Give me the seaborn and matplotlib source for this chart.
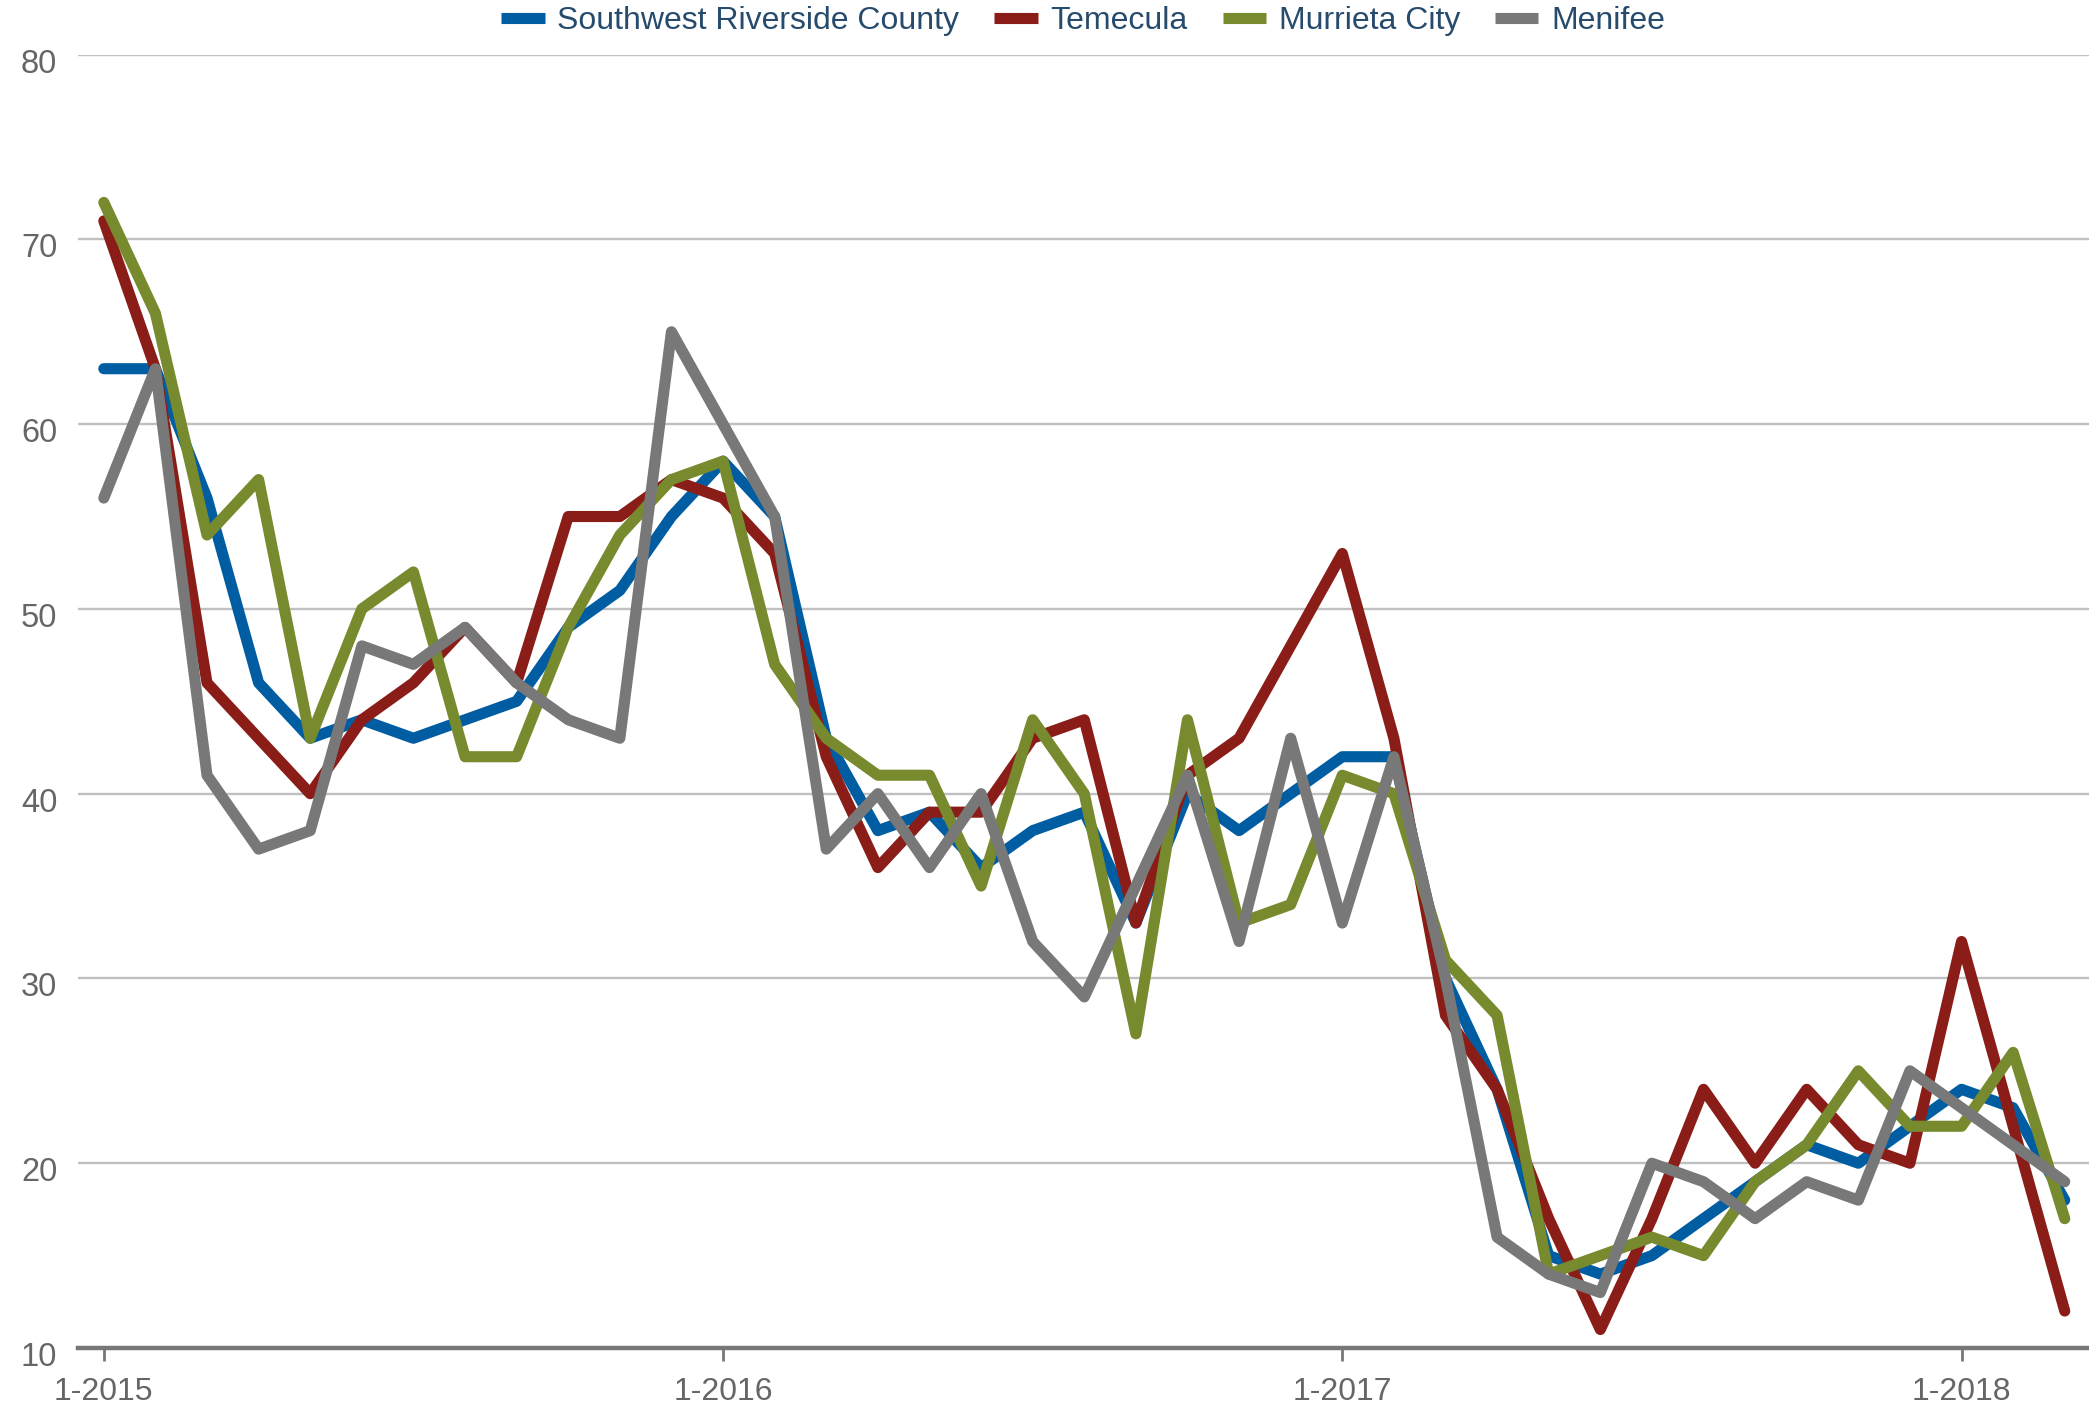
import numpy as np
import pandas as pd
import matplotlib
matplotlib.use("Agg")
import matplotlib.pyplot as plt
import matplotlib.transforms as mtransforms
import seaborn as sns
from matplotlib.lines import Line2D

# ---- data -------------------------------------------------------------
months = [f"{m}-{y}" for y in (2015, 2016, 2017, 2018) for m in range(1, 13)][:39]
tick_labels = ["1-2015", "1-2016", "1-2017", "1-2018"]
series_names = ["Southwest Riverside County", "Temecula", "Murrieta City", "Menifee"]

southwest = [63, 63, 56, 46, 43, 44, 43, 44, 45, 49, 51, 55, 58, 55, 43, 38, 39, 36, 38, 39,
             33, 40, 38, 40, 42, 42, 30, 24, 15, 14, 15, 17, 19, 21, 20, 22, 24, 23, 18]
temecula = [71, 63, 46, 43, 40, 44, 46, 49, 46, 55, 55, 57, 56, 53, 42, 36, 39, 39, 43, 44,
            33, 41, 43, 48, 53, 43, 28, 24, 17, 11, 17, 24, 20, 24, 21, 20, 32, 22, 12]
murrieta = [72, 66, 54, 57, 43, 50, 52, 42, 42, 49, 54, 57, 58, 47, 43, 41, 41, 35, 44, 40,
            27, 44, 33, 34, 41, 40, 31, 28, 14, 15, 16, 15, 19, 21, 25, 22, 22, 26, 17]
menifee = [56, 63, 41, 37, 38, 48, 47, 49, 46, 44, 43, 65, 60, 55, 37, 40, 36, 40, 32, 29,
           35, 41, 32, 43, 33, 42, 30, 16, 14, 13, 20, 19, 17, 19, 18, 25, 23, 21, 19]

colors = ["#005da2", "#8a1d18", "#778b2e", "#787878"]

# ---- frame ------------------------------------------------------------
frames = []
for name, vals in zip(series_names, [southwest, temecula, murrieta, menifee]):
    frames.append(pd.DataFrame({"idx": np.arange(len(months)), "month": months,
                                "value": vals, "series": name}))
df = pd.concat(frames, ignore_index=True)

sns.set_theme(style="white")
plt.rcParams['font.family'] = ['Liberation Sans', 'DejaVu Sans']

W, H = 2089, 1408
fig = plt.figure(figsize=(W / 100, H / 100), dpi=100)
left, top, bottom = 78, 54.6, 1348
ax = fig.add_axes([left / W, 1 - bottom / H, 1 - left / W, (bottom - top) / H])

sns.lineplot(data=df, x="idx", y="value", hue="series", hue_order=series_names,
             palette=colors, linewidth=8, ax=ax, legend=False, sort=False)
for ln in ax.lines:
    ln.set_solid_capstyle("round")
    ln.set_solid_joinstyle("round")

ax.set_xlim(-0.5, 38.47)
ax.set_ylim(10, 80)
ax.set_yticks(range(10, 81, 10))
ax.set_xticks([0, 12, 24, 36])
ax.set_xticklabels(tick_labels)
ax.set_xlabel("")
ax.set_ylabel("")

ax.yaxis.grid(True, color="#c0c0c0", linewidth=1.7)
ax.xaxis.grid(False)
ax.set_axisbelow(True)
for s in ["left", "top", "right"]:
    ax.spines[s].set_visible(False)
ax.spines["bottom"].set_color("#777777")
ax.spines["bottom"].set_linewidth(3.2)

ax.tick_params(axis="x", direction="out", length=9, width=2, color="#777777",
               labelcolor="#666666", labelsize=23, pad=12, bottom=True)
ax.tick_params(axis="y", length=0, pad=15, labelcolor="#666666", labelsize=23.5)

offset = mtransforms.ScaledTranslation(0, -6 / 100, fig.dpi_scale_trans)
for lbl in ax.get_yticklabels():
    lbl.set_transform(lbl.get_transform() + offset)

handles = [Line2D([], [], color=c, linewidth=8, solid_capstyle="butt") for c in colors]
fig.legend(handles, series_names, loc="center", bbox_to_anchor=(0.5185, 0.985),
           ncol=4, frameon=False, fontsize=23, handlelength=1.35, handletextpad=0.4,
           columnspacing=1.1, labelcolor="#274b6d", borderaxespad=0, borderpad=0)

fig.savefig("out.png", dpi=100)
